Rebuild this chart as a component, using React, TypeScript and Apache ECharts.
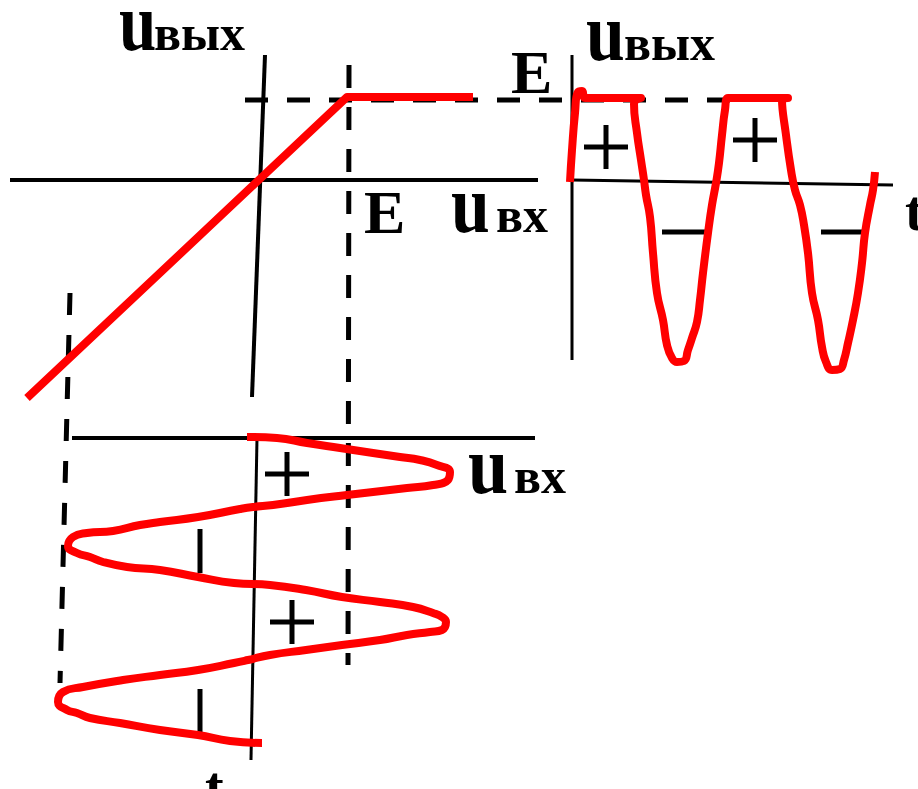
import React, { useEffect, useRef } from "react";
import * as echarts from "echarts";

const W = 918;
const H = 789;

// ---- Left: transfer characteristic u_out(u_in) ----
const transferAxisU = [[10, 180], [538, 180]];
const transferAxisOut = [[265, 55], [252, 397]];
const transferCurve = [[27, 398], [347, 97], [473, 97]];
const levelEDashed = [[245, 100], [735, 100]];
const inputEDashed = [[349, 65], [348, 665]];
const inputMinDashed = [[70, 293], [60, 683]];

// ---- Right: output waveform u_out(t) ----
const outAxisU = [[572, 55], [572, 360]];
const outAxisT = [[572, 180], [893, 185]];
const outWave = [
  [570, 182], [572, 150], [575, 113], [578, 92], [582, 91], [585, 98], [641, 98],
  [634, 104], [637, 133], [641, 160], [644, 180], [646, 195], [650, 217], [653, 253],
  [657, 293], [663, 320], [667, 345], [672, 358], [677, 362], [684, 361], [688, 350],
  [692, 338], [697, 322], [700, 300], [703, 273], [708, 233], [712, 205], [716, 183],
  [719, 163], [722, 135], [725, 110], [728, 98], [788, 98],
  [782, 100], [786, 135], [791, 170], [795, 190], [800, 205], [804, 225], [808, 253],
  [812, 293], [818, 320], [822, 347], [826, 362], [832, 370], [840, 369], [844, 360],
  [848, 343], [853, 320], [858, 293], [862, 263], [865, 233], [870, 205], [873, 190],
  [875, 172],
];

// ---- Bottom: input waveform u_in(t), time running downward ----
const inAxisU = [[72, 438], [535, 438]];
const inAxisT = [[257, 438], [251, 760]];
const inWave = [
  [247, 437], [277, 438], [307, 443], [340, 448], [373, 453], [400, 457], [420, 460],
  [437, 465], [450, 472], [448, 480], [433, 485], [407, 488], [373, 492], [347, 495],
  [307, 500], [273, 505], [253, 507], [240, 509], [198, 517], [160, 522], [140, 525],
  [113, 531], [87, 533], [73, 537], [68, 546], [77, 553], [90, 557], [103, 562],
  [127, 567], [160, 570], [198, 577], [234, 583], [270, 585], [306, 590], [342, 597],
  [380, 602], [413, 607], [433, 613], [442, 617], [446, 622], [442, 630], [430, 632],
  [407, 635], [380, 640], [342, 645], [306, 650], [270, 655], [248, 660], [234, 663],
  [198, 670], [160, 675], [123, 680], [83, 687], [63, 692], [58, 702], [67, 710],
  [77, 713], [90, 718], [120, 723], [160, 730], [198, 735], [230, 741], [262, 743],
];

// ---- Polarity signs ----
const plusCenters = [[606, 147], [755, 140], [287, 474], [292, 622]];
const minusCenters = [[684, 232], [843, 232]];
const barCenters = [[200, 551], [200, 711]];

const RED = "#ff0000";
const BLACK = "#000000";

function line(data: number[][], color: string, width: number, dash?: number[], smooth = false, z = 2) {
  return {
    type: "line",
    data,
    symbol: "none",
    silent: true,
    smooth,
    clip: false,
    z,
    lineStyle: { color, width, type: dash ? dash : "solid", cap: "butt", join: "round" },
  };
}

const FONT = '"Liberation Serif", "Times New Roman", serif';
function txt(text: string, x: number, baseline: number, size: number, scaleX = 1) {
  return {
    type: "text",
    x,
    y: baseline - size * 0.3375,
    scaleX,
    z: 10,
    style: {
      text,
      fill: BLACK,
      fontFamily: FONT,
      fontWeight: "bold",
      fontSize: size,
      lineHeight: Math.round(size * 0.5),
      textAlign: "left",
      align: "left",
      textVerticalAlign: "middle",
      verticalAlign: "middle",
    },
  };
}

export default function App() {
  const ref = useRef<HTMLDivElement>(null);
  useEffect(() => {
    document.body.style.margin = "0";
    if (!ref.current) return;
    const chart = echarts.init(ref.current, null, { renderer: "svg" });
    const H2 = 22;
    const signSeries: any[] = [];
    plusCenters.forEach(([x, y]) => {
      signSeries.push(line([[x - H2, y], [x + H2, y]], BLACK, 5));
      signSeries.push(line([[x, y - H2], [x, y + H2]], BLACK, 5));
    });
    minusCenters.forEach(([x, y]) => signSeries.push(line([[x - 22, y], [x + 22, y]], BLACK, 5)));
    barCenters.forEach(([x, y]) => signSeries.push(line([[x, y - 22], [x, y + 22]], BLACK, 5)));

    chart.setOption({
      animation: false,
      backgroundColor: "#ffffff",
      grid: { left: 0, right: 0, top: 0, bottom: 0, containLabel: false },
      xAxis: { type: "value", min: 0, max: W, show: false },
      yAxis: { type: "value", min: 0, max: H, inverse: true, show: false },
      series: [
        line(transferAxisU, BLACK, 4),
        line(transferAxisOut, BLACK, 4),
        line(levelEDashed, BLACK, 5, [23, 19]),
        line(inputEDashed, BLACK, 5, [23, 19]),
        line(inputMinDashed, BLACK, 5, [22, 20]),
        line(transferCurve, RED, 8, undefined, false, 3),
        line(outAxisU, BLACK, 3),
        line(outAxisT, BLACK, 3),
        line(outWave, RED, 8, undefined, true, 3),
        line(inAxisU, BLACK, 4),
        line(inAxisT, BLACK, 3),
        line(inWave, RED, 8, undefined, true, 3),
        ...signSeries,
      ],
      graphic: [
        txt("u", 119, 50, 82, 0.82),
        txt("вых", 154, 50, 50),
        txt("E", 511, 93, 62),
        txt("E", 364, 233, 62),
        txt("u", 451, 232, 82, 0.85),
        txt("вх", 496, 232, 50),
        txt("u", 586, 60, 82, 0.85),
        txt("вых", 624, 60, 50),
        txt("t", 905, 230, 56),
        txt("u", 468, 493, 82, 0.88),
        txt("вх", 514, 493, 50),
        txt("t", 205, 806, 56),
      ],
    });
    return () => chart.dispose();
  }, []);
  return <div ref={ref} style={{ width: W, height: H }} />;
}
